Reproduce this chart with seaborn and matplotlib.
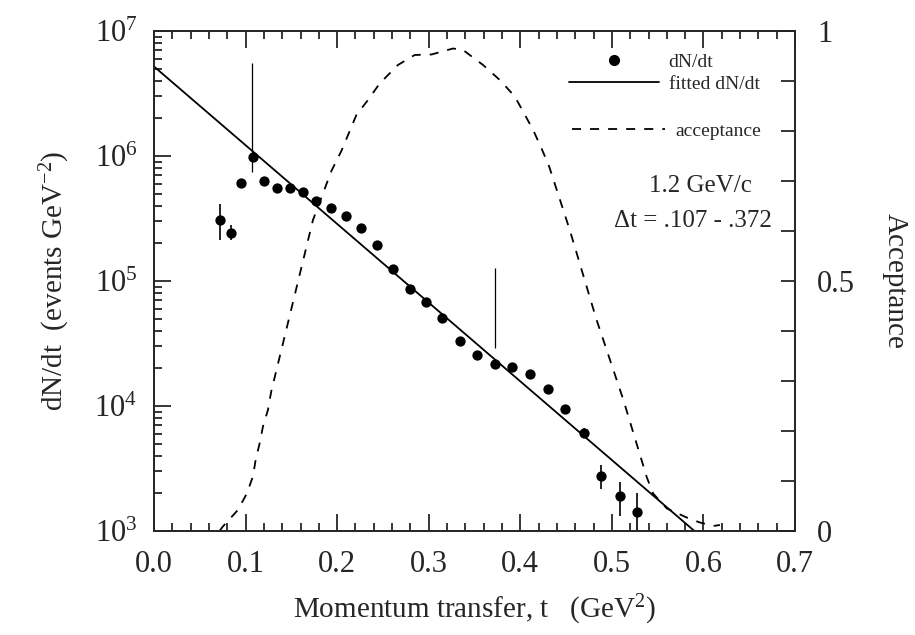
import numpy as np
import pandas as pd
import matplotlib
matplotlib.use("Agg")
import matplotlib.pyplot as plt
import seaborn as sns
from matplotlib.lines import Line2D
from matplotlib.ticker import (LogLocator, MultipleLocator, FixedLocator,
                               FixedFormatter, NullFormatter, FormatStrFormatter)

# ---------------- data ----------------
t_data = [0.0723, 0.0836, 0.0949, 0.108, 0.120, 0.134, 0.1484, 0.1626, 0.1773,
          0.1936, 0.210, 0.2264, 0.2435, 0.261, 0.2792, 0.2967, 0.3142, 0.3339,
          0.3528, 0.3721, 0.391, 0.4104, 0.4304, 0.4486, 0.4694, 0.4883,
          0.5087, 0.5277]
dndt = [3.07e5, 2.44e5, 6.12e5, 9.9e5, 6.35e5, 5.52e5, 5.52e5, 5.19e5, 4.37e5,
        3.83e5, 3.33e5, 2.65e5, 1.94e5, 1.24e5, 8.65e4, 6.8e4, 5.06e4, 3.32e4,
        2.55e4, 2.15e4, 2.06e4, 1.79e4, 1.38e4, 9.53e3, 6.07e3, 2.74e3,
        1.89e3, 1.42e3]

err_t = [0.0723, 0.0836, 0.4694, 0.4883, 0.5087, 0.5277]
err_lo = [2.13e5, 2.14e5, 5.5e3, 2.17e3, 1.32e3, 0.9e3]
err_hi = [4.13e5, 2.80e5, 6.7e3, 3.38e3, 2.45e3, 2.03e3]

fit_norm = 5.2e6      # dN/dt at t = 0
fit_slope = 14.5      # GeV^-2
fit_tmax = 0.6

acc_t = [0.0716, 0.0752, 0.0916, 0.1014, 0.108, 0.111, 0.1153, 0.119, 0.1244,
         0.128, 0.1408, 0.170, 0.1736, 0.1937, 0.2046, 0.221, 0.2337, 0.2464,
         0.2664, 0.2847, 0.303, 0.3266, 0.3375, 0.3593, 0.3776, 0.394, 0.403,
         0.414, 0.4232, 0.4315, 0.454, 0.4833, 0.487, 0.5124, 0.538, 0.545,
         0.560, 0.5816, 0.596, 0.6107, 0.618]
acc = [0.0, 0.009, 0.042, 0.075, 0.109, 0.142, 0.175, 0.209, 0.242, 0.279,
       0.375, 0.595, 0.622, 0.72, 0.76, 0.832, 0.862, 0.895, 0.932, 0.952,
       0.953, 0.965, 0.962, 0.932, 0.902, 0.869, 0.839, 0.802, 0.765, 0.729,
       0.602, 0.422, 0.402, 0.263, 0.108, 0.075, 0.045, 0.027, 0.017, 0.010,
       0.012]

cut_t = [0.107, 0.372]
cut_lo = [7.45e5, 2.89e4]
cut_hi = [5.5e6, 1.26e5]

x_ticks = [0.0, 0.1, 0.2, 0.3, 0.4, 0.5, 0.6, 0.7]
acc_ticks = [0.0, 0.5, 1.0]
acc_labels = ["0", "0.5", "1"]

# ---------------- style ----------------
sns.set_style("ticks")
plt.rcParams["font.family"] = ["Liberation Serif", "DejaVu Serif"]
plt.rcParams["mathtext.fontset"] = "custom"
plt.rcParams["mathtext.rm"] = "Liberation Serif"
plt.rcParams["mathtext.it"] = "Liberation Serif:italic"
plt.rcParams["mathtext.bf"] = "Liberation Serif:bold"
plt.rcParams["axes.linewidth"] = 1.3

df = pd.DataFrame({"t": t_data, "dndt": dndt})
t_fit = np.linspace(0.0, fit_tmax, 200)
df_fit = pd.DataFrame({"t": t_fit, "y": fit_norm * np.exp(-fit_slope * t_fit)})
df_acc = pd.DataFrame({"t": acc_t, "acc": acc})

fig = plt.figure(figsize=(9.15, 6.35), dpi=100)
ax = fig.add_axes([0.1683, 0.1638, 0.7006, 0.7874])

ax.set_yscale("log")
sns.lineplot(data=df_fit, x="t", y="y", ax=ax, color="black", lw=1.3,
             estimator=None, sort=False)
sns.scatterplot(data=df, x="t", y="dndt", ax=ax, color="black", s=55,
                linewidth=0, zorder=3)
ax.vlines(err_t, err_lo, err_hi, color="black", lw=1.2)
ax.vlines(cut_t, cut_lo, cut_hi, color="black", lw=0.9)

ax.set_xlim(0, 0.7)
ax.set_ylim(1e3, 1e7)
ax.xaxis.set_major_locator(FixedLocator(x_ticks))
ax.xaxis.set_major_formatter(FormatStrFormatter("%.1f"))
ax.xaxis.set_minor_locator(MultipleLocator(0.02))
ax.yaxis.set_major_locator(LogLocator(base=10, numticks=10))
ax.yaxis.set_minor_locator(LogLocator(base=10, subs=np.arange(2, 10), numticks=20))
ax.yaxis.set_minor_formatter(NullFormatter())
ax.tick_params(which="both", direction="in", top=True, right=False,
               color="black", width=1.1)
ax.tick_params(which="major", length=12, labelsize=22, pad=12)
ax.tick_params(which="minor", length=6)
ax.tick_params(axis="x", which="major", pad=14)

ax.set_xlabel("Momentum transfer, t   (GeV$^{2}$)", fontsize=21, labelpad=10)
ax.set_ylabel("dN/dt  (events GeV$^{-2}$)", fontsize=21, labelpad=16)

ax2 = ax.twinx()
sns.lineplot(data=df_acc, x="t", y="acc", ax=ax2, color="black", lw=1.3,
             linestyle=(0, (5, 5)), estimator=None, sort=False)
ax2.set_ylim(0, 1)
ax2.set_xlim(0, 0.7)
ax2.yaxis.set_major_locator(FixedLocator(acc_ticks))
ax2.yaxis.set_major_formatter(FixedFormatter(acc_labels))
ax2.yaxis.set_minor_locator(MultipleLocator(0.1))
ax2.tick_params(axis="y", which="both", direction="in", length=10,
                width=1.1, color="black")
ax2.tick_params(axis="y", which="major", labelsize=22, pad=16)
ax2.set_ylabel("Acceptance", fontsize=21, rotation=270, labelpad=38)
for sp in ax2.spines.values():
    sp.set_linewidth(1.3)

# legends
h_pts = Line2D([], [], color="black", marker="o", ms=7, linestyle="none")
h_fit = Line2D([], [], color="black", lw=1.3)
h_acc = Line2D([], [], color="black", lw=1.3, linestyle=(0, (5, 5)))
leg1 = ax2.legend([h_pts, h_fit], ["dN/dt", "fitted dN/dt"], loc="upper left",
                  bbox_to_anchor=(0.648, 0.955), frameon=False, fontsize=14,
                  handlelength=4.6, handletextpad=0.5, borderpad=0,
                  borderaxespad=0, labelspacing=0.2)
ax2.add_artist(leg1)
ax2.legend([h_acc], ["acceptance"], loc="upper left",
           bbox_to_anchor=(0.652, 0.818), frameon=False, fontsize=14,
           handlelength=4.8, handletextpad=0.5, borderpad=0, borderaxespad=0)

ax2.text(0.853, 0.689, "1.2 GeV/c", transform=ax2.transAxes, fontsize=18,
         ha="center", va="center")
ax2.text(0.841, 0.619, "\u0394t = .107 - .372", transform=ax2.transAxes,
         fontsize=18, ha="center", va="center")

fig.savefig("out.png", dpi=100)
